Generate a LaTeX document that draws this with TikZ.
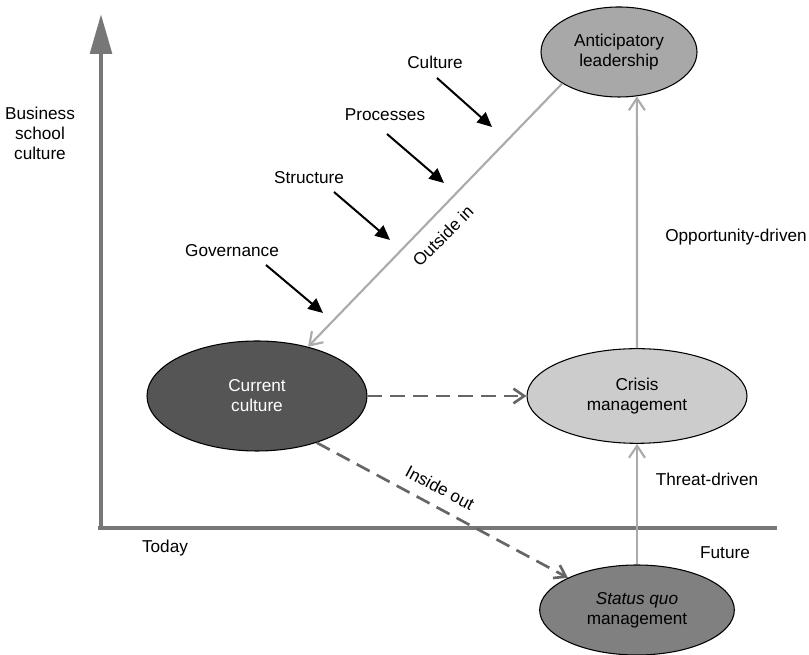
\documentclass[tikz,border=0pt]{standalone}
\usepackage{fontspec}
\setmainfont{Liberation Sans}
\usetikzlibrary{arrows.meta,shapes.geometric}
\definecolor{axisgray}{HTML}{777777}
\definecolor{flowgray}{HTML}{ABABAB}
\definecolor{dashgray}{HTML}{666666}
\definecolor{antfill}{HTML}{A8A8A8}
\definecolor{curfill}{HTML}{555555}
\definecolor{crifill}{HTML}{CCCCCC}
\definecolor{sqfill}{HTML}{808080}
\tikzset{
  lbl/.style={font=\fontsize{12.9}{15}\selectfont, inner sep=1pt, align=center},
  stage/.style={ellipse, draw=black, line width=0.8pt, inner sep=0pt,
    font=\fontsize{12.9}{15}\selectfont, align=center},
  axisline/.style={draw=axisgray, line width=3.6pt},
  flow/.style={draw=flowgray, line width=1.6pt, -{Straight Barb[length=9pt,width=12pt,line width=1.6pt]}},
  dashflow/.style={draw=dashgray, line width=2pt, dash pattern=on 11pt off 6pt,
    -{Straight Barb[length=8pt,width=11pt,line width=2pt]}},
  push/.style={draw=black, line width=1.5pt, -{Triangle[length=11pt,width=10pt]}}
}
\begin{document}
\begin{tikzpicture}[x=0.75pt,y=0.75pt]
\useasboundingbox (0,0) rectangle (809,655);

% axes
\coordinate (origin) at (101,127);
\coordinate (ytop) at (101,641);
\coordinate (xleft) at (98,127);
\coordinate (xend) at (777,127);
\draw[axisline] (xleft) -- (xend);
\draw[axisline, -{Triangle[length=30pt,width=16pt]}] ([yshift=-1.3pt]origin) -- (ytop);

\node[lbl] (yl) at (40,522) {Business\\school\\culture};
\node[lbl] (today) at (165,107) {Today};
\node[lbl] (future) at (725,102) {Future};

% stages
\node[stage, fill=antfill, minimum width=117pt, minimum height=67.5pt] (ant) at (619,603) {Anticipatory\\leadership};
\node[stage, fill=curfill, text=white, minimum width=165pt, minimum height=82.5pt] (cur) at (257,259) {Current\\culture};
\node[stage, fill=crifill, minimum width=165pt, minimum height=71pt] (cri) at (637,259) {Crisis\\management};
\node[stage, fill=sqfill, minimum width=146pt, minimum height=67.5pt] (sq) at (637,45) {\itshape Status quo\\management};

% flows between stages
\draw[flow] (ant.209) -- (cur.44);
\draw[flow] (cri.north) -- (ant.-68);
\draw[flow] (sq.north) -- (cri.south);
\draw[dashflow] (cur.east) -- (cri.west);
\draw[dashflow] (cur.-38) -- (sq.155);

\node[lbl, rotate=45] (outin) at (443,419) {Outside in};
\node[lbl, rotate=-28] (inout) at (440,167) {Inside out};
\node[lbl] (opp) at (736,418) {Opportunity-driven};
\node[lbl] (thr) at (707,176) {Threat-driven};

% levers pushing on the outside-in path
\node[lbl] (culture) at (435,593) {Culture};
\node[lbl] (proc) at (385,540) {Processes};
\node[lbl] (struc) at (309,477) {Structure};
\node[lbl] (gov) at (232,404) {Governance};
\coordinate (c1) at (437,577); \coordinate (c2) at (492,528);
\coordinate (p1) at (387,521); \coordinate (p2) at (444,472);
\coordinate (s1) at (334,463); \coordinate (s2) at (390,415);
\coordinate (g1) at (266,390); \coordinate (g2) at (323,342);
\draw[push] (c1) -- (c2);
\draw[push] (p1) -- (p2);
\draw[push] (s1) -- (s2);
\draw[push] (g1) -- (g2);
\end{tikzpicture}
\end{document}
